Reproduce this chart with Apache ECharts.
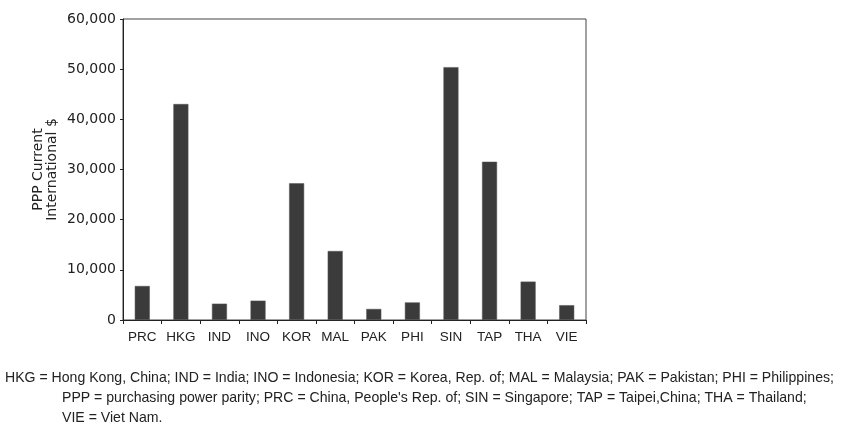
<!DOCTYPE html>
<html>
<head>
<meta charset="utf-8">
<script src="https://cdn.jsdelivr.net/npm/echarts@6/dist/echarts.min.js"></script>
<style>
  html, body { margin: 0; padding: 0; background: #fff; }
  #chart { width: 845px; height: 425px; }
</style>
</head>
<body>
<div id="chart"></div>
<script>
// economies and GDP per capita, PPP current international $
var economies = ['PRC', 'HKG', 'IND', 'INO', 'KOR', 'MAL', 'PAK', 'PHI', 'SIN', 'TAP', 'THA', 'VIE'];
var pppValues = [6780, 43050, 3250, 3850, 27250, 13750, 2200, 3500, 50400, 31550, 7650, 2950];
var yTicks = [0, 10000, 20000, 30000, 40000, 50000, 60000];
var noteLines = [
  'HKG = Hong Kong, China; IND = India; INO = Indonesia; KOR = Korea, Rep. of; MAL = Malaysia; PAK = Pakistan; PHI = Philippines;',
  'PPP = purchasing power parity; PRC = China, People\'s Rep. of; SIN = Singapore; TAP = Taipei,China; THA = Thailand;',
  'VIE = Viet Nam.'
];

var chart = echarts.init(document.getElementById('chart'));

chart.setOption({
  animation: false,
  grid: {
    left: 123,
    right: 259,
    top: 19,
    bottom: 105,
    show: true,
    borderColor: '#444',
    borderWidth: 1
  },
  xAxis: {
    type: 'category',
    data: economies,
    axisLine: { lineStyle: { color: '#222', width: 1 } },
    axisTick: { show: true, length: 4, lineStyle: { color: '#222' } },
    axisLabel: {
      interval: 0,
      color: '#222',
      fontSize: 13.5,
      fontFamily: 'Liberation Sans',
      margin: 10
    }
  },
  yAxis: {
    type: 'value',
    min: yTicks[0],
    max: yTicks[yTicks.length - 1],
    interval: yTicks[1] - yTicks[0],
    name: 'PPP Current\nInternational $',
    nameLocation: 'middle',
    nameRotate: 90,
    nameGap: 64,
    nameMoveOverlap: false,
    nameTextStyle: { color: '#222', fontSize: 14, fontFamily: 'DejaVu Sans', lineHeight: 14 },
    splitLine: { show: false },
    axisLine: { show: true, lineStyle: { color: '#222', width: 1 } },
    axisTick: { show: true, length: 3, lineStyle: { color: '#222' } },
    axisLabel: {
      color: '#222',
      fontSize: 14,
      fontFamily: 'DejaVu Sans',
      margin: 7,
      formatter: function (v) { return v.toLocaleString('en-US'); }
    }
  },
  series: [{
    type: 'bar',
    data: pppValues,
    barWidth: 15,
    itemStyle: { color: '#3b3b3b', borderColor: '#555', borderWidth: 0.5 }
  }],
  graphic: noteLines.map(function (line, i) {
    return {
      type: 'text',
      x: i === 0 ? 5 : 62,
      y: 378 + i * 20,
      style: {
        text: line,
        fill: '#222',
        fontSize: 14.1,
        fontFamily: 'Liberation Sans',
        verticalAlign: 'middle'
      }
    };
  })
});
</script>
</body>
</html>
